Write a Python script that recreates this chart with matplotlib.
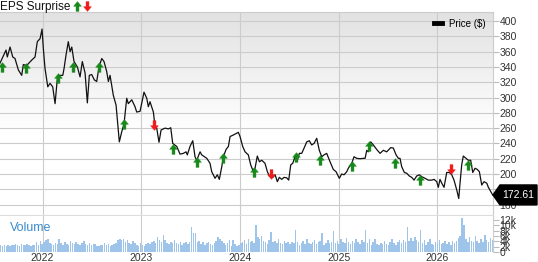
import matplotlib.pyplot as plt
import numpy as np
from matplotlib.path import Path
from matplotlib.patches import Polygon
from matplotlib.lines import Line2D

plt.rcParams['font.family'] = ['Liberation Sans', 'DejaVu Sans']

# price line (decimal year, $)
price_t = [2021.569, 2021.630, 2021.643, 2021.671, 2021.698, 2021.721, 2021.755, 2021.789, 2021.805, 2021.840,
           2021.891, 2021.924, 2021.947, 2021.975, 2021.995, 2022.008, 2022.025, 2022.053, 2022.076, 2022.103,
           2022.127, 2022.150, 2022.177, 2022.205, 2022.218, 2022.238, 2022.261, 2022.279, 2022.296, 2022.319,
           2022.353, 2022.380, 2022.403, 2022.431, 2022.454, 2022.474, 2022.498, 2022.525, 2022.549, 2022.572,
           2022.600, 2022.623, 2022.650, 2022.667, 2022.684, 2022.717, 2022.745, 2022.778, 2022.802, 2022.826,
           2022.853, 2022.869, 2022.904, 2022.937, 2022.954, 2022.988, 2023.028, 2023.056, 2023.072, 2023.089,
           2023.123, 2023.140, 2023.157, 2023.180, 2023.201, 2023.241, 2023.275, 2023.299, 2023.319, 2023.360,
           2023.393, 2023.427, 2023.454, 2023.467, 2023.494, 2023.522, 2023.545, 2023.562, 2023.596, 2023.613,
           2023.664, 2023.697, 2023.714, 2023.748, 2023.771, 2023.791, 2023.816, 2023.832, 2023.859, 2023.883,
           2023.900, 2023.933, 2023.961, 2023.984, 2024.001, 2024.028, 2024.052, 2024.085, 2024.109, 2024.130,
           2024.153, 2024.176, 2024.197, 2024.221, 2024.254, 2024.278, 2024.298, 2024.332, 2024.356, 2024.379,
           2024.399, 2024.424, 2024.447, 2024.474, 2024.494, 2024.515, 2024.535, 2024.558, 2024.582, 2024.602,
           2024.626, 2024.649, 2024.677, 2024.703, 2024.727, 2024.751, 2024.778, 2024.804, 2024.829, 2024.852,
           2024.879, 2024.913, 2024.946, 2024.974, 2025.007, 2025.031, 2025.055, 2025.082, 2025.098, 2025.133,
           2025.156, 2025.183, 2025.217, 2025.250, 2025.268, 2025.285, 2025.301, 2025.325, 2025.352, 2025.386,
           2025.420, 2025.453, 2025.487, 2025.528, 2025.554, 2025.582, 2025.605, 2025.622, 2025.639, 2025.666,
           2025.690, 2025.716, 2025.741, 2025.764, 2025.791, 2025.818, 2025.842, 2025.875, 2025.909, 2025.943,
           2025.967, 2025.994, 2026.010, 2026.027, 2026.045, 2026.068, 2026.095, 2026.122, 2026.146, 2026.169,
           2026.197, 2026.217, 2026.230, 2026.247, 2026.263, 2026.291, 2026.314, 2026.338, 2026.359, 2026.382,
           2026.405, 2026.426, 2026.450, 2026.473, 2026.501, 2026.517, 2026.541, 2026.561]
price = [345, 362, 353, 366, 353, 351, 336, 329, 343, 342,
         349, 353, 373, 377, 389.5, 364, 338, 314, 318.5, 314,
         292, 325, 329, 329, 338, 355.6, 373, 360, 366, 347,
         340, 327, 347, 332, 293, 329, 330, 323, 321, 340,
         351, 347, 334, 321, 329, 303, 290, 242, 255, 266,
         299, 292, 297, 288, 281, 282, 307, 299, 288, 294.5,
         281, 262, 260, 241.5, 257.5, 260, 259, 260.5, 240, 236,
         226, 227, 229, 225, 236, 243.5, 222.6, 218, 229, 225,
         220.5, 214, 203, 194.4, 199, 193, 209.6, 222.6, 232, 236,
         249, 251, 253, 254.5, 249, 236, 229, 225, 212, 205,
         207.5, 223.5, 216, 218, 214, 203, 197.4, 195.6, 199, 190,
         195.6, 193, 195.6, 195, 192, 212, 214, 222.6, 218, 227,
         227, 233.6, 242, 243.5, 238, 240, 246.7, 231, 222.6, 225,
         227, 216, 206, 203, 194.4, 200, 199, 203, 207.5, 214,
         222.6, 220.5, 220, 220.5, 220.5, 231, 229, 242, 238, 232,
         227, 231, 229, 234.5, 234, 225, 220.5, 220.5, 209.6, 202,
         201, 197.4, 195.6, 192, 197.4, 199, 196.5, 194.4, 192, 192,
         193, 190, 182.6, 193, 188, 182.6, 202, 202, 199, 192,
         179, 168, 188, 212, 223.5, 220.5, 218, 218, 202, 207.5,
         206, 203, 185.6, 190, 188, 182.6, 177, 172.61]
last_price = 172.61

# earnings surprise arrows
eps_t = [2021.587, 2021.833, 2022.160, 2022.306, 2022.572, 2022.826, 2023.130, 2023.319, 2023.568, 2023.826,
         2024.143, 2024.312, 2024.565, 2024.812, 2025.139, 2025.311, 2025.571, 2025.824, 2026.136, 2026.308]
eps_level = [340, 338, 325, 340, 340, 266, 264, 233, 216, 220.5,
             202, 200, 222.6, 218, 210.5, 236, 214, 192, 206, 212]
eps_beat = [True, True, True, True, True, True, False, True, True, True,
            True, False, True, True, True, True, True, True, False, True]

# weekly volume (thousands)
vol_start = 2021.575
volume_k = [2.5, 2.2, 2.8, 2.4, 2.6, 2.3,
            2.8, 2.5, 3.0, 2.6, 2.4, 2.9, 2.7, 2.5, 3.1, 2.6, 2.4, 2.8, 2.5,
            3.6, 2.8, 4.2, 3.0, 3.9, 4.6, 5.0, 3.4,
            3.0, 2.7, 3.5, 2.9, 4.8, 3.2, 2.8, 3.6, 3.1, 2.6, 4.0, 3.3, 2.9, 3.8, 3.0, 2.7, 3.4, 4.2, 3.1, 2.8,
            3.5, 2.6, 3.0, 2.9,
            2.4, 2.2, 2.8, 2.5, 3.2, 2.6, 2.9, 2.3, 2.7, 3.0,
            3.4, 4.5, 5.0, 4.6, 4.8, 3.9, 4.4, 3.5, 3.1, 4.0, 3.3,
            2.8, 2.3, 3.2, 2.6, 2.1, 2.9, 3.4, 3.0,
            3.6, 4.1, 3.3, 5.8, 4.6, 3.9, 6.5, 4.4,
            3.5, 2.9, 3.8, 3.2, 4.5, 3.4, 3.0, 3.7,
            2.7, 3.3, 3.9, 2.9, 3.6,
            9.3, 7.0, 7.0,
            3.8, 4.2, 3.1, 3.6, 2.8, 3.3, 3.9, 3.0, 2.7, 3.4,
            4.3, 5.6, 4.8, 4.0, 3.5,
            2.6, 3.2, 4.5, 2.3, 4.6, 3.0, 2.1, 2.8,
            3.4, 3.9, 4.4, 3.1, 4.8, 3.6, 4.2, 3.3,
            10.3,
            5.6, 4.9, 6.0, 4.2,
            3.8, 3.1, 4.5, 7.4, 3.6, 4.3, 3.2, 4.8, 3.5, 2.9, 4.1, 3.4, 3.7,
            3.0, 3.6, 3.3, 8.4, 3.8,
            2.6, 3.3, 4.2, 3.0, 4.8, 3.5, 2.9, 3.7, 4.4, 3.1, 3.6, 4.0, 7.0, 2.8, 3.4, 4.6, 3.2, 3.9,
            8.0,
            3.4, 4.1, 3.0, 4.7, 3.6, 3.2, 5.1, 3.8, 2.9, 4.3, 3.5, 4.8, 3.7, 3.1,
            4.5, 3.6, 8.4,
            3.2, 5.0, 2.7, 3.6, 4.8, 3.0, 2.6, 3.4, 2.9, 4.2, 3.1, 2.7, 3.8, 4.9, 3.3, 2.8, 3.6, 4.4,
            3.5, 4.6, 3.9, 9.4, 4.2,
            5.1, 4.0, 5.6, 4.4, 3.8,
            8.4,
            3.2, 4.5, 2.7, 3.6, 4.9, 3.0, 2.6, 3.9, 3.3, 4.6, 2.9, 3.5, 4.1, 3.0, 3.7, 2.8, 4.2, 3.4,
            4.0, 5.2, 6.0,
            12.9, 10.0,
            4.8, 3.6, 5.5, 4.1, 3.7, 6.0, 4.3, 3.5, 5.0, 3.9, 6.5, 4.6, 3.8, 5.2, 4.4]

years = [2022, 2023, 2024, 2025, 2026]
price_ticks = list(range(160, 401, 20))
vol_ticks = [0, 2, 4, 6, 8, 10, 12]

W, H = 538, 262
x0, x1 = 2021.569, 2026.561
grid_c = '#cccccc'
green = '#17891b'
red = '#ee1b1b'

fig = plt.figure(figsize=(W / 100, H / 100), dpi=100)
ax = fig.add_axes([0, 1 - 215.7 / H, 492.7 / W, (215.7 - 12) / H])
axv = fig.add_axes([0, 1 - 252 / H, 492.7 / W, (252 - 215.7) / H], sharex=ax)

# background gradient for price panel
ylo, yhi = 145.5, 411.8
g = np.linspace(0, 1, 256)
shade = np.where(g < 0.42, 1.0, 1.0 - (g - 0.42) / 0.58 * 0.115)
img = np.dstack([shade, shade, shade]).reshape(256, 1, 3)
ax.imshow(img, extent=[x0, x1, ylo, yhi], origin='lower', aspect='auto', zorder=0)

ax.plot(price_t, price, color='#111111', lw=0.9, zorder=3)

# arrow markers
up = Path([(-0.8, 0.05), (0, 1), (0.8, 0.05), (0.3, 0.05), (0.3, -1), (-0.3, -1), (-0.3, 0.05), (-0.8, 0.05)],
          [Path.MOVETO] + [Path.LINETO] * 6 + [Path.CLOSEPOLY])
down = Path([(x, -y) for x, y in up.vertices], up.codes)
for t, p, b in zip(eps_t, eps_level, eps_beat):
    ax.plot([t], [p], marker=up if b else down, ms=7, color=green if b else red,
            mec=green if b else red, mew=0.3, linestyle='none', zorder=4)

ax.set_xlim(x0, x1)
ax.set_ylim(ylo, yhi)
ax.set_yticks(price_ticks)
ax.yaxis.tick_right()
ax.tick_params(axis='y', length=4, color='#bbbbbb', labelsize=7.5, labelcolor='#333333', pad=1)
ax.tick_params(axis='x', length=0, labelbottom=False)
ax.set_xticks(years)
ax.grid(True, color=grid_c, lw=0.8)
ax.set_axisbelow(True)
ax.spines['left'].set_visible(False)
ax.spines['top'].set_color(grid_c)
ax.spines['right'].set_color(grid_c)
ax.spines['bottom'].set_color('#dddddd')
ax.spines['bottom'].set_linewidth(1.6)

ax.legend(handles=[Line2D([], [], color='black', lw=3.5)], labels=['Price ($)'], loc='upper right',
          frameon=False, fontsize=7, handlelength=0.9, handletextpad=0.7, borderaxespad=0.3)

# volume panel
vol_t = vol_start + np.arange(len(volume_k)) / 52.18
axv.bar(vol_t, volume_k, width=0.8 / 52.18, color='#9fc4e9', linewidth=0, zorder=2)
axv.set_ylim(0, 13.6)
axv.set_yticks(vol_ticks)
axv.set_yticklabels(['0' if v == 0 else f'{v}k' for v in vol_ticks])
axv.yaxis.tick_right()
axv.tick_params(axis='y', length=4, color='#bbbbbb', labelsize=7.5, labelcolor='#333333', pad=1)
axv.tick_params(axis='x', length=0, labelsize=7.5, labelcolor='#333333', pad=0.5)
axv.set_xticks(years)
axv.set_xticklabels([str(y) for y in years])
axv.grid(True, axis='x', color=grid_c, lw=0.8)
axv.set_axisbelow(True)
for s in ['left', 'top', 'bottom']:
    axv.spines[s].set_visible(False)
axv.spines['right'].set_color(grid_c)
axv.text(0.02, 0.66, 'Volume', transform=axv.transAxes, color='#3a8bd0', fontsize=9, va='center')

# title with arrow glyphs
fig.text(0.0, 1 - 7 / H, 'EPS Surprise', fontsize=8.5, va='center', ha='left', color='#111111')
fig.add_artist(Line2D([77 / W], [1 - 6 / H], marker=up, ms=7, color=green, mew=0.3, transform=fig.transFigure))
fig.add_artist(Line2D([87 / W], [1 - 6 / H], marker=down, ms=7, color=red, mew=0.3, transform=fig.transFigure))

# last price tag
yd = ax.transData.transform((x1, last_price))[1]
tag = [(493, yd), (500, yd + 10), (537, yd + 10), (537, yd - 10), (500, yd - 10)]
fig.add_artist(Polygon([(px / W, py / H) for px, py in tag], closed=True, color='black',
                       transform=fig.transFigure, zorder=5))
fig.text(518.5 / W, yd / H, f'{last_price:.2f}', color='white', fontsize=7.5, ha='center', va='center', zorder=6)

fig.savefig('out.png', dpi=100)
